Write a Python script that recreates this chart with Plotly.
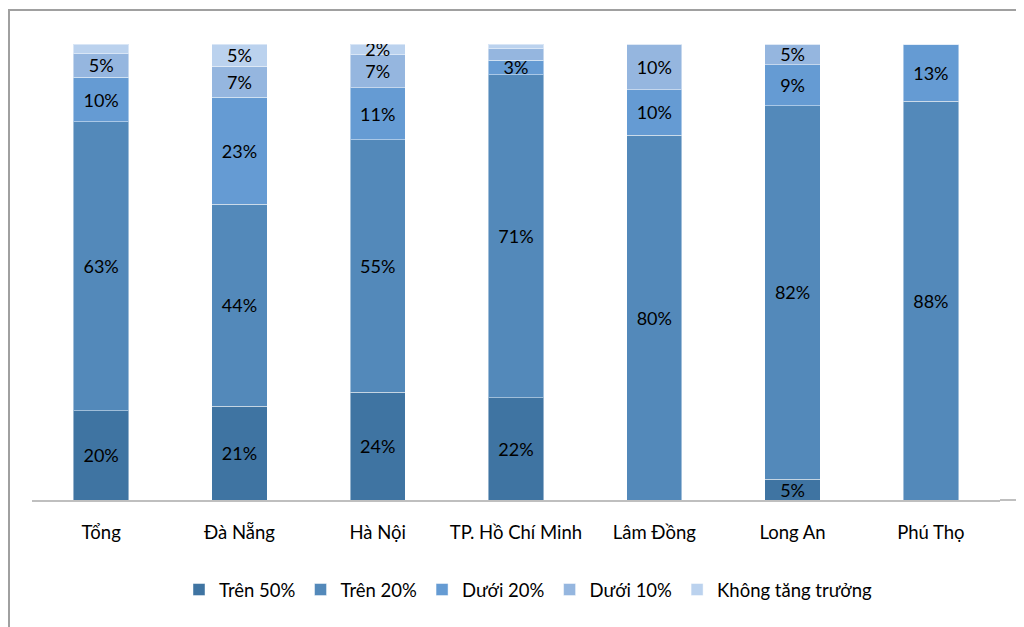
import plotly.graph_objects as go

categories = ["Tổng", "Đà Nẵng", "Hà Nội", "TP. Hồ Chí Minh", "Lâm Đồng", "Long An", "Phú Thọ"]
series_names = ["Trên 50%", "Trên 20%", "Dưới 20%", "Dưới 10%", "Không tăng trưởng"]

tren_50 = [19.6, 20.6, 23.6, 22.4, 0.0, 4.6, 0.0]
tren_20 = [63.3, 44.3, 55.4, 70.9, 80.0, 81.9, 87.5]
duoi_20 = [9.8, 23.4, 11.4, 3.1, 10.0, 8.9, 12.5]
duoi_10 = [5.2, 6.8, 7.2, 2.6, 10.0, 4.6, 0.0]
khong = [2.1, 4.9, 2.4, 1.0, 0.0, 0.0, 0.0]

# labels not displayed in the reference (series index, category index)
hidden_labels = {(4, 0), (3, 3), (4, 3)}

values = [tren_50, tren_20, duoi_20, duoi_10, khong]
colors = ["#3F74A2", "#5389BA", "#659BD3", "#95B6DF", "#BBD2EE"]

FONT = "Lato, Liberation Sans, sans-serif"

# page has an 8px body margin; all pixel positions below are page pixels
OFF = 8
W, H = 1024 - OFF, 627 - OFF
PL, PR, PT, PB = 32, 1000, 44, 500  # plot area in page pixels

fig = go.Figure()
for si, (name, vals, col) in enumerate(zip(series_names, values, colors)):
    tmpl = []
    for ci, v in enumerate(vals):
        if v == 0 or (si, ci) in hidden_labels:
            tmpl.append("")
        else:
            tmpl.append("%{y:.0f}%")
    fig.add_trace(go.Bar(
        name=name, x=categories, y=vals,
        marker=dict(color=col, line=dict(color="rgba(255,255,255,0.45)", width=1)),
        texttemplate=tmpl, textposition="inside", insidetextanchor="middle",
        textangle=0, constraintext="none",
        textfont=dict(family=FONT, size=18, color="#000000"),
        hoverinfo="skip",
    ))

def px_x(px):
    return (px - PL) / (PR - PL)

def px_y(py):
    return (PB - py) / (PB - PT)

fig.update_layout(
    barmode="stack",
    bargap=0.6,
    width=W, height=H,
    margin=dict(l=PL - OFF, r=1024 - PR, t=PT - OFF, b=627 - PB, pad=0),
    paper_bgcolor="white", plot_bgcolor="white",
    font=dict(family=FONT, size=18, color="#000000"),
    showlegend=True,
    legend=dict(orientation="h", x=px_x(528), xanchor="center", y=px_y(590), yanchor="middle",
                font=dict(family=FONT, size=18.5), itemwidth=30, traceorder="normal"),
    uniformtext=dict(mode=False),
    shapes=[
        dict(type="line", xref="paper", yref="paper", x0=px_x(8), x1=px_x(1040),
             y0=px_y(10), y1=px_y(10), line=dict(color="#A0A0A0", width=2)),
        dict(type="line", xref="paper", yref="paper", x0=px_x(9), x1=px_x(9),
             y0=px_y(9), y1=px_y(660), line=dict(color="#A0A0A0", width=2)),
        dict(type="line", xref="paper", yref="paper", x0=px_x(1000), x1=px_x(1020),
             y0=0, y1=0, line=dict(color="#BFBFBF", width=2), layer="below"),
    ],
)
fig.update_xaxes(showline=True, linecolor="#BFBFBF", linewidth=2, showgrid=False,
                 ticks="", ticklabelstandoff=15, tickfont=dict(family=FONT, size=18.5))
fig.update_yaxes(range=[0, 100], visible=False, showgrid=False)

fig.write_html("out.html")
